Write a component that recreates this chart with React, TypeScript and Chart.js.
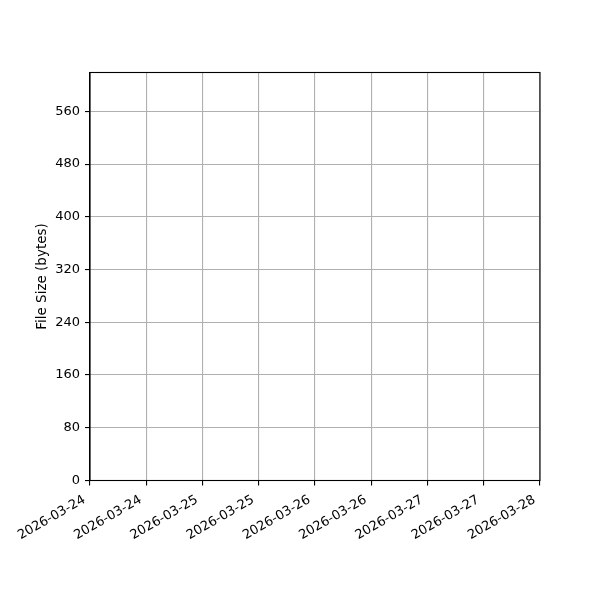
import { useEffect, useRef } from "react";
import { Chart, registerables } from "chart.js";

Chart.register(...registerables);

const xLabels = [
  "2026-03-24",
  "2026-03-24",
  "2026-03-25",
  "2026-03-25",
  "2026-03-26",
  "2026-03-26",
  "2026-03-27",
  "2026-03-27",
  "2026-03-28",
];
const yTicks = [0, 80, 160, 240, 320, 400, 480, 560];
const yMax = 619;
const fileSizes: number[] = [];

const FONT_SIZE = 13;
const FONT_FAMILY = "DejaVu Sans";

// box on all four sides, like matplotlib spines
const frame = {
  id: "frame",
  afterDraw(chart: Chart) {
    const { ctx, chartArea } = chart;
    ctx.save();
    ctx.strokeStyle = "#000";
    ctx.lineWidth = 1.1;
    ctx.strokeRect(chartArea.left, chartArea.top, chartArea.right - chartArea.left, chartArea.bottom - chartArea.top);
    ctx.restore();
  },
};

// rotated date labels, right end hanging just under each tick
const rotatedLabels = {
  id: "rotatedLabels",
  afterDraw(chart: Chart) {
    const { ctx } = chart;
    const scale: any = chart.scales.x;
    const angle = Math.PI / 6;
    ctx.save();
    ctx.fillStyle = "#000";
    ctx.font = `${FONT_SIZE}px "${FONT_FAMILY}"`;
    ctx.textAlign = "right";
    ctx.textBaseline = "bottom";
    scale.ticks.forEach((_: any, i: number) => {
      const x = scale.getPixelForTick(i) - 2.3;
      const y = scale.top + 24;
      ctx.save();
      ctx.translate(x, y);
      ctx.rotate(-angle);
      ctx.fillText(String(scale.getLabelForValue(i)), 0, 0);
      ctx.restore();
    });
    ctx.restore();
  },
};

export default function App() {
  const canvasRef = useRef<HTMLCanvasElement>(null);
  const chartRef = useRef<Chart | null>(null);

  useEffect(() => {
    document.body.style.margin = "0";
    if (!canvasRef.current) return;
    if (chartRef.current) chartRef.current.destroy();
    const ctx = canvasRef.current.getContext("2d");
    if (!ctx) return;

    const font = { family: FONT_FAMILY, size: FONT_SIZE };
    const grid = { color: "#b0b0b0", lineWidth: 1.1, tickLength: 5, tickColor: "#000", tickWidth: 1.1 };

    chartRef.current = new Chart(ctx, {
      type: "line",
      data: {
        labels: xLabels,
        datasets: [{ label: "File Size", data: fileSizes, borderColor: "#1f77b4" }],
      },
      options: {
        responsive: false,
        animation: false,
        layout: { padding: { left: 0, top: 72.5, right: 60, bottom: 0 } },
        plugins: { legend: { display: false }, tooltip: { enabled: false } },
        scales: {
          x: {
            type: "category",
            offset: false,
            afterFit: (s: any) => { s.height = 119.5; },
            border: { color: "#000", width: 1.1 },
            grid,
            ticks: { display: false, autoSkip: false },
          },
          y: {
            min: 0,
            max: yMax,
            afterBuildTicks: (s: any) => { s.ticks = yTicks.map((v) => ({ value: v })); },
            afterFit: (s: any) => { s.width = 90; },
            border: { color: "#000", width: 1.1 },
            grid,
            ticks: { color: "#000", font, padding: 5 },
            title: {
              display: true,
              text: "File Size (bytes)",
              color: "#000",
              font: { family: FONT_FAMILY, size: 13.5 },
              padding: { top: 34, bottom: 0 },
            },
          },
        },
      },
      plugins: [frame, rotatedLabels],
    });

    return () => {
      if (chartRef.current) {
        chartRef.current.destroy();
        chartRef.current = null;
      }
    };
  }, []);

  return <canvas ref={canvasRef} width={600} height={600} style={{ display: "block" }} />;
}
